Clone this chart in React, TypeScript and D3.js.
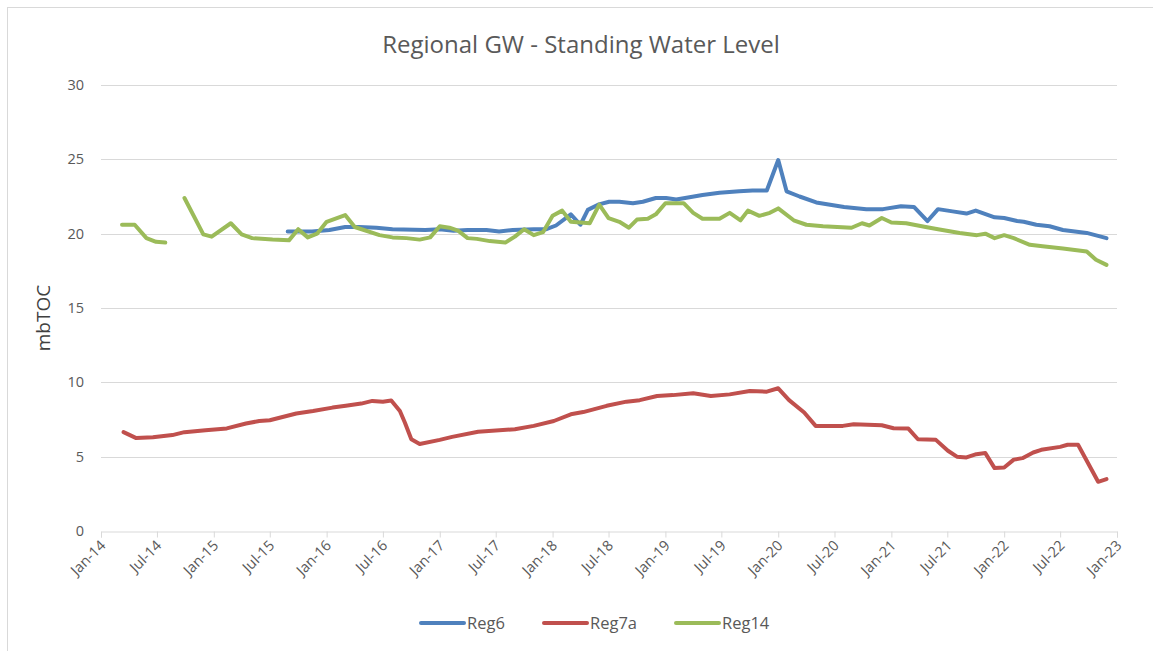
import { useEffect, useRef } from 'react'
import * as d3 from 'd3'

// Reg6 (blue)
const reg6Dates = [
  '2015-08-28', '2015-11-15', '2016-01-10', '2016-03-01', '2016-04-15', '2016-06-10', '2016-08-01',
  '2016-11-15', '2017-01-01', '2017-02-15', '2017-04-01', '2017-06-01', '2017-07-12', '2017-08-25',
  '2017-11-01', '2017-12-12', '2018-01-12', '2018-03-01', '2018-04-01', '2018-04-25', '2018-05-28',
  '2018-07-03', '2018-08-05', '2018-09-18', '2018-10-20', '2018-12-01', '2019-01-03', '2019-02-05',
  '2019-03-20', '2019-05-01', '2019-06-25', '2019-08-28', '2019-10-10', '2019-11-25', '2020-01-01',
  '2020-01-28', '2020-03-10', '2020-05-03', '2020-08-01', '2020-10-12', '2020-12-05', '2021-02-01',
  '2021-03-15', '2021-04-28', '2021-06-01', '2021-07-18', '2021-09-01', '2021-10-01', '2021-12-01',
  '2022-01-01', '2022-02-12', '2022-03-05', '2022-04-15', '2022-05-28', '2022-07-10', '2022-09-25',
  '2022-11-28',
]
const reg6Values = [
  20.15, 20.15, 20.25, 20.45, 20.45, 20.4, 20.3,
  20.25, 20.3, 20.2, 20.25, 20.25, 20.15, 20.25,
  20.3, 20.3, 20.55, 21.3, 20.6, 21.6, 21.95,
  22.15, 22.15, 22.05, 22.15, 22.4, 22.4, 22.3,
  22.45, 22.6, 22.75, 22.85, 22.9, 22.9, 24.95,
  22.85, 22.5, 22.1, 21.8, 21.65, 21.65, 21.85,
  21.8, 20.85, 21.65, 21.5, 21.35, 21.55, 21.1,
  21.05, 20.85, 20.8, 20.6, 20.5, 20.25, 20.05,
  19.7,
]

// Reg7a (red)
const reg7aDates = [
  '2014-03-15', '2014-04-25', '2014-06-18', '2014-08-20', '2014-09-28', '2014-12-05', '2015-02-12',
  '2015-04-15', '2015-05-28', '2015-07-01', '2015-09-25', '2015-11-18', '2016-01-20', '2016-03-03',
  '2016-04-22', '2016-05-28', '2016-07-01', '2016-07-28', '2016-08-25', '2016-09-10', '2016-10-01',
  '2016-10-28', '2017-01-01', '2017-02-10', '2017-05-05', '2017-09-01', '2017-11-01', '2018-01-05',
  '2018-03-01', '2018-04-10', '2018-06-25', '2018-08-28', '2018-10-10', '2018-12-05', '2019-01-25',
  '2019-04-01', '2019-05-28', '2019-07-28', '2019-10-01', '2019-11-25', '2020-01-01', '2020-02-05',
  '2020-03-25', '2020-05-01', '2020-07-28', '2020-09-01', '2020-12-01', '2021-01-08', '2021-02-25',
  '2021-03-28', '2021-05-25', '2021-07-03', '2021-08-01', '2021-09-01', '2021-10-03', '2021-11-01',
  '2021-12-01', '2022-01-01', '2022-02-01', '2022-03-01', '2022-04-05', '2022-05-01', '2022-07-01',
  '2022-07-25', '2022-08-28', '2022-11-01', '2022-11-28',
]
const reg7aValues = [
  6.65, 6.25, 6.3, 6.45, 6.65, 6.78, 6.9,
  7.23, 7.4, 7.45, 7.9, 8.07, 8.3, 8.42,
  8.57, 8.75, 8.7, 8.78, 8.07, 7.3, 6.17,
  5.85, 6.13, 6.33, 6.68, 6.85, 7.07, 7.4,
  7.85, 8.0, 8.42, 8.7, 8.8, 9.08, 9.14,
  9.26, 9.08, 9.19, 9.42, 9.37, 9.6, 8.8,
  7.97, 7.07, 7.07, 7.18, 7.11, 6.91, 6.89,
  6.17, 6.13, 5.4, 5.0, 4.95, 5.17, 5.24,
  4.23, 4.27, 4.8, 4.9, 5.28, 5.46, 5.66,
  5.8, 5.8, 3.31, 3.49,
]

// Reg14 (green) - null marks the gap in late 2014
const reg14Dates = [
  '2014-03-10', '2014-04-20', '2014-05-28', '2014-06-28', '2014-07-28', '2014-08-28',
  '2014-09-28', '2014-11-28', '2014-12-25', '2015-02-25', '2015-04-01', '2015-05-05', '2015-07-10',
  '2015-09-01', '2015-10-01', '2015-11-01', '2015-12-01', '2016-01-01', '2016-03-01', '2016-04-01',
  '2016-06-20', '2016-08-01', '2016-09-15', '2016-10-28', '2016-12-01', '2017-01-01', '2017-02-01',
  '2017-03-01', '2017-04-01', '2017-05-01', '2017-06-12', '2017-08-01', '2017-09-01', '2017-10-01',
  '2017-11-01', '2017-12-01', '2018-01-01', '2018-02-01', '2018-03-01', '2018-04-01', '2018-05-01',
  '2018-06-01', '2018-07-01', '2018-08-05', '2018-09-05', '2018-10-01', '2018-11-05', '2018-12-01',
  '2019-01-01', '2019-03-01', '2019-04-01', '2019-05-01', '2019-06-25', '2019-07-28', '2019-09-01',
  '2019-09-25', '2019-11-01', '2019-12-05', '2020-01-01', '2020-02-20', '2020-04-01', '2020-05-25',
  '2020-08-25', '2020-09-28', '2020-10-22', '2020-12-01', '2021-01-01', '2021-02-18', '2021-04-22',
  '2021-06-01', '2021-08-10', '2021-10-05', '2021-11-01', '2021-12-01', '2022-01-01', '2022-02-01',
  '2022-03-25', '2022-05-05', '2022-07-10', '2022-09-25', '2022-10-25', '2022-11-28',
]
const reg14Values: (number | null)[] = [
  20.6, 20.6, 19.7, 19.45, 19.4, null,
  22.4, 19.95, 19.8, 20.7, 19.95, 19.7, 19.6,
  19.55, 20.3, 19.75, 20.0, 20.8, 21.25, 20.45,
  19.9, 19.75, 19.7, 19.6, 19.75, 20.5, 20.4,
  20.2, 19.7, 19.65, 19.5, 19.4, 19.8, 20.3,
  19.9, 20.1, 21.2, 21.55, 20.8, 20.75, 20.7,
  21.95, 21.05, 20.8, 20.4, 20.95, 21.0, 21.3,
  22.05, 22.05, 21.4, 21.0, 21.0, 21.4, 20.9,
  21.55, 21.2, 21.4, 21.7, 20.9, 20.6, 20.5,
  20.4, 20.7, 20.55, 21.05, 20.75, 20.7, 20.45,
  20.3, 20.05, 19.9, 20.0, 19.7, 19.9, 19.7,
  19.25, 19.15, 19.0, 18.8, 18.25, 17.9,
]

const yTicks = [0, 5, 10, 15, 20, 25, 30]

const series = [
  { name: 'Reg6', color: '#4F81BD', dates: reg6Dates, values: reg6Values as (number | null)[] },
  { name: 'Reg7a', color: '#C0504D', dates: reg7aDates, values: reg7aValues as (number | null)[] },
  { name: 'Reg14', color: '#9BBB59', dates: reg14Dates, values: reg14Values },
]

type Pt = { date: Date; value: number | null }

const W = 1153
const H = 651
const FONT = "'Open Sans', 'Noto Sans', sans-serif"

export default function App() {
  const svgRef = useRef<SVGSVGElement>(null)

  useEffect(() => {
    const svgEl = svgRef.current
    if (!svgEl) return
    const svg = d3.select(svgEl)
    svg.selectAll('*').remove()

    const parse = d3.timeParse('%Y-%m-%d')
    const x = d3.scaleTime()
      .domain([new Date(2014, 0, 1), new Date(2023, 0, 1)])
      .range([101, 1117])
    const y = d3.scaleLinear().domain([0, 30]).range([531, 85])

    // chart frame
    svg.append('rect')
      .attr('x', 7.5).attr('y', 7.5)
      .attr('width', W + 20).attr('height', H + 20)
      .style('fill', '#fff').style('stroke', '#d9d9d9').style('stroke-width', '1')

    // Title
    svg.append('text')
      .attr('x', 581).attr('y', 53)
      .attr('text-anchor', 'middle')
      .style('font-family', FONT).style('font-size', '24px').style('fill', '#595959')
      .text('Regional GW - Standing Water Level')

    // Gridlines
    const grid = svg.append('g')
    grid.selectAll('line')
      .data(yTicks.filter(d => d > 0))
      .join('line')
      .attr('x1', 101).attr('x2', 1117)
      .attr('y1', d => Math.round(y(d)) + 0.5).attr('y2', d => Math.round(y(d)) + 0.5)
      .style('stroke', '#d9d9d9').style('stroke-width', '1')

    // Y axis labels
    svg.append('g')
      .selectAll('text')
      .data(yTicks)
      .join('text')
      .attr('x', 84).attr('y', d => y(d) + 5)
      .attr('text-anchor', 'end')
      .style('font-family', FONT).style('font-size', '14.5px').style('fill', '#595959')
      .text(d => d)

    // Y axis title
    svg.append('text')
      .attr('transform', 'translate(50,318) rotate(-90)')
      .attr('text-anchor', 'middle')
      .style('font-family', FONT).style('font-size', '19px').style('fill', '#404040')
      .text('mbTOC')

    // X axis
    const xAxisG = svg.append('g').attr('transform', `translate(0,${Math.round(y(0)) + 0.5})`)
    xAxisG.call(
      d3.axisBottom(x)
        .ticks(d3.timeMonth.every(6))
        .tickSize(6)
        .tickFormat(d => d3.timeFormat('%b-%y')(d as Date)),
    )
    xAxisG.select('.domain').style('stroke', '#d9d9d9')
    xAxisG.selectAll('.tick line').style('stroke', '#d9d9d9')
    xAxisG.selectAll('.tick text')
      .attr('text-anchor', 'end')
      .attr('dy', null)
      .attr('y', null)
      .attr('transform', 'translate(5,15) rotate(-45)')
      .style('font-family', FONT).style('font-size', '14.5px').style('fill', '#595959')

    // Lines
    const line = d3.line<Pt>()
      .defined(d => d.value !== null)
      .x(d => x(d.date))
      .y(d => y(d.value as number))

    series.forEach(s => {
      const pts: Pt[] = s.dates.map((d, i) => ({ date: parse(d) as Date, value: s.values[i] }))
      svg.append('path')
        .datum(pts)
        .attr('fill', 'none')
        .attr('d', line)
        .style('stroke', s.color)
        .style('stroke-width', '4')
        .style('stroke-linejoin', 'round')
        .style('stroke-linecap', 'round')
    })

    // Legend
    const legendX = [421, 544, 676]
    const lg = svg.append('g')
    series.forEach((s, i) => {
      lg.append('line')
        .attr('x1', legendX[i]).attr('x2', legendX[i] + 43)
        .attr('y1', 623).attr('y2', 623)
        .style('stroke', s.color).style('stroke-width', '4').style('stroke-linecap', 'round')
      lg.append('text')
        .attr('x', legendX[i] + 46).attr('y', 629)
        .style('font-family', FONT).style('font-size', '16.5px').style('fill', '#595959')
        .text(s.name)
    })
  }, [])

  return (
    <svg
      ref={svgRef}
      width={W}
      height={H}
      style={{ position: 'absolute', left: 0, top: 0, display: 'block' }}
    />
  )
}
